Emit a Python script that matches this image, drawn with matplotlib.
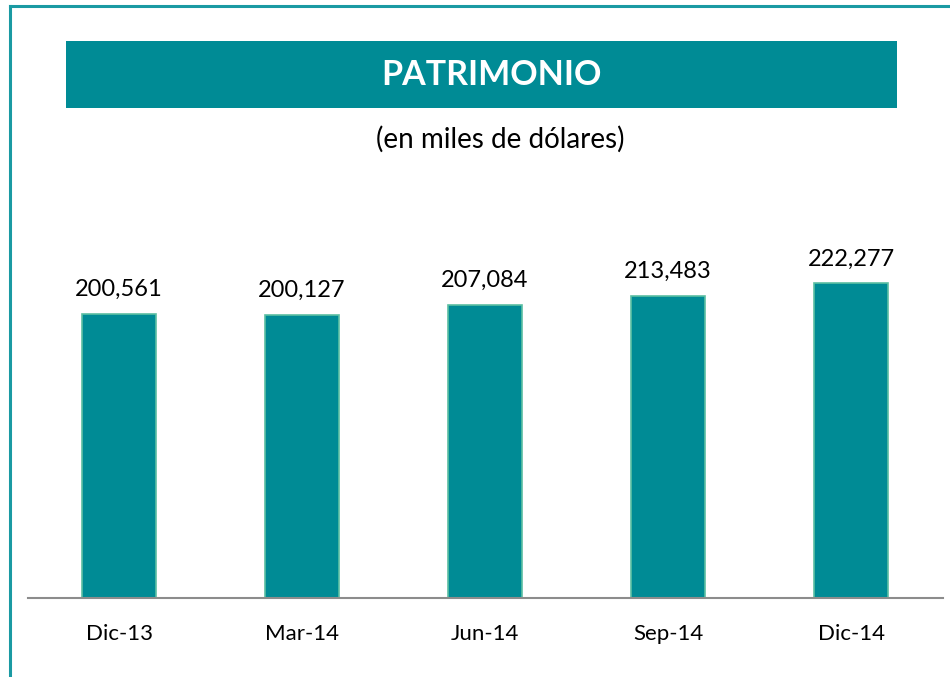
import matplotlib
matplotlib.use("Agg")
import matplotlib.pyplot as plt
from matplotlib.patches import Rectangle

categories = ["Dic-13", "Mar-14", "Jun-14", "Sep-14", "Dic-14"]
values = [200561, 200127, 207084, 213483, 222277]
title = "PATRIMONIO"
subtitle = "(en miles de dólares)"

teal = "#008B95"
edge = "#5CBFA3"

plt.rcParams['font.family'] = ['Lato', 'DejaVu Sans']

fig = plt.figure(figsize=(9.5, 6.77), dpi=100)
W, H = 950, 677

# outer border (left and top visible)
fig.add_artist(plt.Line2D([9.5/W, 9.5/W], [0, 1 - 6/H], color="#1A9AA3", lw=2.2, transform=fig.transFigure))
fig.add_artist(plt.Line2D([9.5/W, 1], [1 - 6/H, 1 - 6/H], color="#1A9AA3", lw=2.2, transform=fig.transFigure))

# title box
fig.add_artist(Rectangle((66/W, 1 - 108/H), (897 - 66)/W, (108 - 41)/H,
                         transform=fig.transFigure, facecolor=teal, edgecolor="none"))
fig.text(491/W, 1 - 75/H, title, ha="center", va="center",
         color="white", fontsize=24.5, fontweight="bold")
fig.text(500/W, 1 - 139/H, subtitle, ha="center", va="center",
         color="black", fontsize=20)

# axes: bottom at y=598px, top chosen at y=200px
ax_left, ax_right = 27.5, 942.5
ax_bottom, ax_top = 598, 200
ax = fig.add_axes([ax_left/W, 1 - ax_bottom/H, (ax_right - ax_left)/W, (ax_bottom - ax_top)/H])
ppu = (598 - 314) / 200561.0
ax.set_ylim(0, (ax_bottom - ax_top) / ppu)
ax.set_xlim(-0.5, 4.5)

x = list(range(len(categories)))
bars = ax.bar(x, values, width=0.40, color=teal, edgecolor=edge, linewidth=1.2)
for xi, v in zip(x, values):
    ax.annotate(f"{v:,}", (xi, v), xytext=(0, 10), textcoords="offset points",
                ha="center", va="bottom", fontsize=17, color="black")

ax.set_xticks(x)
ax.set_xticklabels(categories, fontsize=16)
ax.tick_params(axis="x", length=0, pad=19)
ax.set_yticks([])
for s in ["top", "right", "left"]:
    ax.spines[s].set_visible(False)
ax.spines["bottom"].set_color("#8C8C8C")
ax.spines["bottom"].set_linewidth(1.5)
ax.patch.set_visible(False)

fig.savefig("out.png", dpi=100)
